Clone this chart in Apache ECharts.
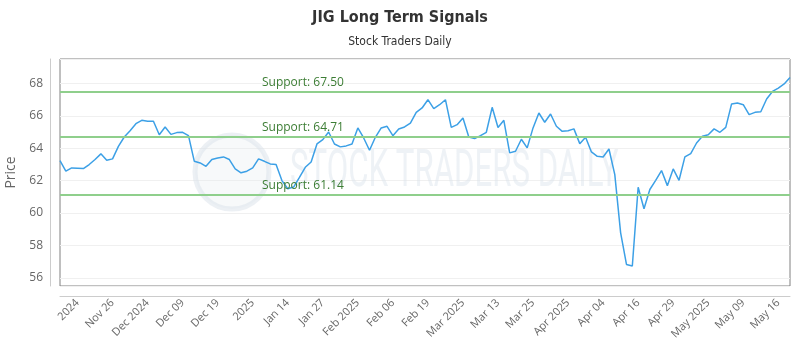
<!DOCTYPE html>
<html>
<head>
<meta charset="utf-8">
<script src="https://cdn.jsdelivr.net/npm/echarts@6/dist/echarts.min.js"></script>
<style>
html,body{margin:0;padding:0;background:#fff;}
#chart{width:800px;height:350px;}
</style>
</head>
<body>
<div id="chart"></div>
<script>
// ---- data ----
const prices = [
  63.23, 62.58, 62.78, 62.76, 62.74, 62.99, 63.30, 63.65, 63.25, 63.34,
  64.11, 64.69, 65.08, 65.51, 65.72, 65.66, 65.66, 64.83, 65.31, 64.85,
  64.96, 64.98, 64.77, 63.19, 63.09, 62.88, 63.30, 63.40, 63.46, 63.30,
  62.72, 62.48, 62.58, 62.78, 63.34, 63.19, 63.03, 62.99, 62.00, 61.50,
  61.60, 62.20, 62.82, 63.15, 64.26, 64.53, 65.00, 64.26, 64.08, 64.14,
  64.26, 65.25, 64.63, 63.87, 64.67, 65.25, 65.35, 64.77, 65.18, 65.31,
  65.55, 66.21, 66.48, 66.99, 66.44, 66.68, 66.99, 65.28, 65.45, 65.86,
  64.69, 64.59, 64.77, 64.98, 66.52, 65.28, 65.72, 63.71, 63.81, 64.55,
  64.02, 65.25, 66.17, 65.60, 66.11, 65.35, 65.04, 65.08, 65.19, 64.28,
  64.67, 63.77, 63.50, 63.46, 63.95, 62.37, 58.78, 56.83, 56.73, 61.59,
  60.26, 61.45, 62.02, 62.62, 61.69, 62.72, 62.02, 63.46, 63.67, 64.32,
  64.73, 64.83, 65.19, 64.98, 65.28, 66.73, 66.79, 66.68, 66.07, 66.21,
  66.25, 67.03, 67.50, 67.71, 67.96, 68.36
];
const tickLabels = ['2024','Nov 26','Dec 2024','Dec 09','Dec 19','2025','Jan 14','Jan 27',
  'Feb 2025','Feb 06','Feb 19','Mar 2025','Mar 13','Mar 25','Apr 2025','Apr 04','Apr 16',
  'Apr 29','May 2025','May 09','May 16'];
const firstLabelIndex = 3;
const labelEvery = 6;
const supportLevels = [67.50, 64.71, 61.14];

// categories: one per point, labelled where a tick label sits
const categories = prices.map(function (v, i) {
  const k = (i - firstLabelIndex) / labelEvery;
  return (Number.isInteger(k) && k >= 0 && k < tickLabels.length) ? tickLabels[k] : ('#' + i);
});

const chart = echarts.init(document.getElementById('chart'), null, {renderer: 'canvas'});
const option = {
  animation: false,
  backgroundColor: '#ffffff',
  title: {
    text: 'JIG Long Term Signals',
    subtext: 'Stock Traders Daily',
    left: 'center',
    top: 5,
    itemGap: 10,
    textStyle: {fontFamily: '"DejaVu Sans Condensed",sans-serif', fontSize: 16, fontWeight: 'bold', color: '#333333'},
    subtextStyle: {fontFamily: '"DejaVu Sans Condensed",sans-serif', fontSize: 12, color: '#333333'}
  },
  graphic: [
    {type: 'circle', z: 1, silent: true, shape: {cx: 232, cy: 172, r: 37},
     style: {fill: 'rgba(228,234,240,0.3)', stroke: 'rgba(218,226,234,0.5)', lineWidth: 5}},
    {type: 'text', z: 1, silent: true, x: 290, y: 173, scaleX: 0.6,
     style: {text: 'STOCK TRADERS DAILY', fontFamily: 'Roboto, sans-serif', fontSize: 52, fontWeight: 'normal',
       fill: 'rgba(218,226,234,0.45)', verticalAlign: 'middle', align: 'left'}}
  ],
  grid: {left: 60, right: 10, top: 59, bottom: 64, show: true, borderColor: '#808080', borderWidth: 1,
         containLabel: false, outerBoundsMode: 'none'},
  xAxis: {
    type: 'category',
    data: categories,
    boundaryGap: false,
    offset: 10,
    axisLine: {show: true, lineStyle: {color: '#cccccc', width: 1}},
    axisTick: {show: false},
    splitLine: {show: false},
    axisLabel: {
      rotate: 45,
      margin: 5,
      fontFamily: '"Open Sans", sans-serif',
      fontSize: 11,
      color: '#666666',
      interval: function (i) {
        const k = (i - firstLabelIndex) / labelEvery;
        return Number.isInteger(k) && k >= 0 && k < tickLabels.length;
      },
      formatter: function (v) { return v.charAt(0) === '#' ? '' : v; }
    }
  },
  yAxis: {
    type: 'value',
    min: 55.5,
    max: 69.5,
    splitNumber: 7,
    offset: 10,
    name: 'Price',
    nameLocation: 'middle',
    nameGap: 23,
    nameTextStyle: {fontFamily: '"Open Sans", sans-serif', fontSize: 14, color: '#666666'},
    axisLine: {show: true, lineStyle: {color: '#cccccc', width: 1}},
    axisTick: {show: false},
    splitLine: {show: true, lineStyle: {color: '#f0f0f0', width: 1}},
    axisLabel: {
      showMinLabel: false,
      showMaxLabel: false,
      margin: 7,
      fontFamily: '"Open Sans", sans-serif',
      fontSize: 12,
      color: '#666666'
    }
  },
  series: [{
    type: 'line',
    data: prices,
    symbol: 'none',
    smooth: false,
    z: 3,
    lineStyle: {color: '#3ca0e6', width: 1.5},
    markLine: {
      silent: true,
      symbol: ['none', 'none'],
      animation: false,
      lineStyle: {color: '#8fcf8c', width: 2, type: 'solid'},
      label: {
        show: true,
        position: 'insideStartTop',
        distance: [202, 3],
        fontFamily: '"Open Sans", sans-serif',
        fontSize: 12,
        color: '#3c7d34',
        formatter: function (p) { return 'Support: ' + p.value.toFixed(2); }
      },
      data: supportLevels.map(function (v) { return {yAxis: v}; })
    }
  }]
};
chart.setOption(option);
</script>
</body>
</html>
